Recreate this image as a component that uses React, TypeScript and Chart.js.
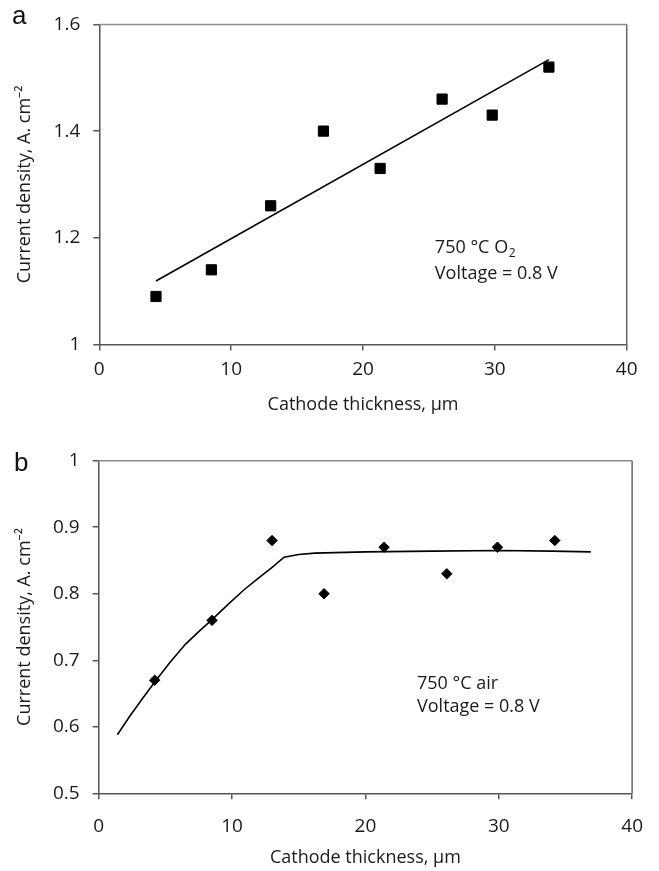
import React, { useEffect, useRef } from "react";
import { Chart, registerables } from "chart.js";

Chart.register(...registerables);

// ---- Panel a data ----
const A_X = [4.3, 8.5, 13.0, 17.0, 21.3, 26.0, 29.8, 34.1];
const A_Y = [1.09, 1.14, 1.26, 1.4, 1.33, 1.46, 1.43, 1.52];
const A_FIT_X = [4.3, 34.1];
const A_FIT_Y = [1.119, 1.534];
const A_Y_TICKS = [1, 1.2, 1.4, 1.6];

// ---- Panel b data ----
const B_X = [4.2, 8.5, 13.0, 16.9, 21.4, 26.1, 29.9, 34.2];
const B_Y = [0.67, 0.76, 0.88, 0.8, 0.87, 0.83, 0.87, 0.88];
const B_CURVE_X = [1.4, 2.3, 3.3, 4.3, 5.4, 6.5, 7.5, 8.5, 9.7, 10.9, 12.0, 13.1, 13.9, 15.0, 16.2, 20, 25, 30, 34, 36.9];
const B_CURVE_Y = [0.588, 0.615, 0.643, 0.67, 0.698, 0.724, 0.743, 0.761, 0.784, 0.806, 0.824, 0.841, 0.855, 0.859, 0.861, 0.863, 0.864, 0.865, 0.864, 0.863];
const B_Y_TICKS = [0.5, 0.6, 0.7, 0.8, 0.9, 1];

const X_TICKS = [0, 10, 20, 30, 40];
const X_TITLE = "Cathode thickness, \u03bcm";
const Y_TITLE = "Current density, A. cm\u207b\u00b2";

const FONT = "'Open Sans', 'Noto Sans', sans-serif";
const AXIS_COLOR = "#555";
const TEXT_COLOR = "#1a1a1a";

type PanelCfg = {
  width: number;
  height: number;
  pad: { left: number; right: number; top: number; bottom: number };
  yWidth: number;
  xHeight: number;
  xTickPad: number;
  xTitlePad: number;
  yMin: number;
  yMax: number;
  yTicks: number[];
  letter: string;
  letterX: number;
  letterY: number;
  ann: { x: number; y: number; line1: string; sub: string; line2: string; gap: number };
  pointStyle: string;
  pointRadius: number;
  markX: number[];
  markY: number[];
  lineX: number[];
  lineY: number[];
};

function makeChart(canvas: HTMLCanvasElement, c: PanelCfg) {
  const framePlugin = {
    id: "frame" + c.letter,
    afterDraw(chart: any) {
      const { ctx, chartArea, scales } = chart;
      const { left, top, right, bottom } = chartArea;
      ctx.save();
      ctx.lineWidth = 1.5;
      ctx.strokeStyle = "#8c8c8c";
      ctx.beginPath();
      ctx.moveTo(left, top);
      ctx.lineTo(right, top);
      ctx.stroke();
      ctx.strokeStyle = "#666";
      ctx.beginPath();
      ctx.moveTo(right, top);
      ctx.lineTo(right, bottom);
      ctx.stroke();

      // panel letter
      ctx.fillStyle = "#111";
      ctx.font = `26px 'Liberation Sans', Arial, sans-serif`;
      ctx.textAlign = "left";
      ctx.textBaseline = "alphabetic";
      ctx.fillText(c.letter, c.letterX, c.letterY);

      // annotation
      const px = scales.x.getPixelForValue(c.ann.x);
      const py = scales.y.getPixelForValue(c.ann.y);
      ctx.fillStyle = TEXT_COLOR;
      ctx.font = `18px ${FONT}`;
      ctx.textBaseline = "middle";
      ctx.fillText(c.ann.line1, px, py);
      if (c.ann.sub) {
        const w = ctx.measureText(c.ann.line1).width;
        ctx.font = `12px ${FONT}`;
        ctx.fillText(c.ann.sub, px + w + 0.5, py + 6);
        ctx.font = `18px ${FONT}`;
      }
      ctx.fillText(c.ann.line2, px, py + c.ann.gap);
      ctx.restore();
    },
  };

  const fmt = (v: number) => String(parseFloat(Number(v).toFixed(2)));

  return new Chart(canvas, {
    type: "scatter",
    data: {
      datasets: [
        {
          type: "line",
          data: c.lineX.map((x, i) => ({ x, y: c.lineY[i] })),
          borderColor: "#000",
          borderWidth: 1.6,
          pointRadius: 0,
          fill: false,
          tension: 0,
          order: 2,
        } as any,
        {
          type: "scatter",
          data: c.markX.map((x, i) => ({ x, y: c.markY[i] })),
          pointStyle: c.pointStyle,
          pointRadius: c.pointRadius,
          backgroundColor: "#000",
          borderColor: "#000",
          borderWidth: 1,
          order: 1,
        } as any,
      ],
    },
    options: {
      responsive: false,
      animation: false,
      devicePixelRatio: 1,
      layout: { padding: c.pad },
      plugins: { legend: { display: false }, tooltip: { enabled: false } },
      scales: {
        x: {
          type: "linear",
          min: 0,
          max: 40,
          afterBuildTicks: (s: any) => {
            s.ticks = X_TICKS.map((v) => ({ value: v }));
          },
          afterFit: (s: any) => {
            s.height = c.xHeight;
          },
          ticks: {
            font: { size: 19, family: FONT },
            color: TEXT_COLOR,
            padding: c.xTickPad,
            maxRotation: 0,
            callback: (v: any) => fmt(v),
          },
          grid: {
            display: true,
            drawOnChartArea: false,
            drawTicks: true,
            tickLength: 6,
            color: AXIS_COLOR,
            lineWidth: 1.5,
          },
          border: { display: true, color: AXIS_COLOR, width: 1.5 },
          title: {
            display: true,
            text: X_TITLE,
            font: { size: 18, family: FONT },
            color: TEXT_COLOR,
            padding: { top: 0, bottom: c.xTitlePad },
          },
        },
        y: {
          type: "linear",
          min: c.yMin,
          max: c.yMax,
          afterBuildTicks: (s: any) => {
            s.ticks = c.yTicks.map((v) => ({ value: v }));
          },
          afterFit: (s: any) => {
            s.width = c.yWidth;
          },
          ticks: {
            font: { size: 19, family: FONT },
            color: TEXT_COLOR,
            padding: 13,
            callback: (v: any) => fmt(v),
          },
          grid: {
            display: true,
            drawOnChartArea: false,
            drawTicks: true,
            tickLength: 6,
            color: AXIS_COLOR,
            lineWidth: 1.5,
          },
          border: { display: true, color: AXIS_COLOR, width: 1.5 },
          title: {
            display: true,
            text: Y_TITLE,
            font: { size: 18, family: FONT },
            color: TEXT_COLOR,
            padding: { top: 14, bottom: 0 },
          },
        },
      },
    } as any,
    plugins: [framePlugin],
  });
}

const PANEL_A: PanelCfg = {
  width: 659,
  height: 430,
  pad: { left: 0, right: 32.3, top: 16, bottom: 0 },
  yWidth: 99.3,
  xHeight: 85.5,
  xTickPad: 8,
  xTitlePad: 14,
  yMin: 1,
  yMax: 1.6,
  yTicks: A_Y_TICKS,
  letter: "a",
  letterX: 12,
  letterY: 23.5,
  ann: { x: 25.45, y: 1.182, line1: "750 \u00b0C O", sub: "2", line2: "Voltage = 0.8 V", gap: 26 },
  pointStyle: "rect",
  pointRadius: 7.2,
  markX: A_X,
  markY: A_Y,
  lineX: A_FIT_X,
  lineY: A_FIT_Y,
};

const PANEL_B: PanelCfg = {
  width: 659,
  height: 441,
  pad: { left: 0, right: 14, top: 30.7, bottom: 0 },
  yWidth: 98.7,
  xHeight: 77.7,
  xTickPad: 16,
  xTitlePad: 2.2,
  yMin: 0.5,
  yMax: 1,
  yTicks: B_Y_TICKS,
  letter: "b",
  letterX: 14,
  letterY: 41,
  ann: { x: 23.87, y: 0.665, line1: "750 \u00b0C air", sub: "", line2: "Voltage = 0.8 V", gap: 23.5 },
  pointStyle: "rectRot",
  pointRadius: 5.2,
  markX: B_X,
  markY: B_Y,
  lineX: B_CURVE_X,
  lineY: B_CURVE_Y,
};

function Panel({ cfg, top }: { cfg: PanelCfg; top: number }) {
  const ref = useRef<HTMLCanvasElement | null>(null);
  useEffect(() => {
    if (!ref.current) return;
    const chart = makeChart(ref.current, cfg);
    return () => chart.destroy();
  }, [cfg]);
  return (
    <canvas
      ref={ref}
      width={cfg.width}
      height={cfg.height}
      style={{ position: "absolute", left: 0, top, width: cfg.width, height: cfg.height }}
    />
  );
}

export default function App() {
  return (
    <div style={{ position: "absolute", left: 0, top: 0, width: 659, height: 871, background: "#fff", overflow: "hidden" }}>
      <Panel cfg={PANEL_A} top={0} />
      <Panel cfg={PANEL_B} top={430} />
    </div>
  );
}
